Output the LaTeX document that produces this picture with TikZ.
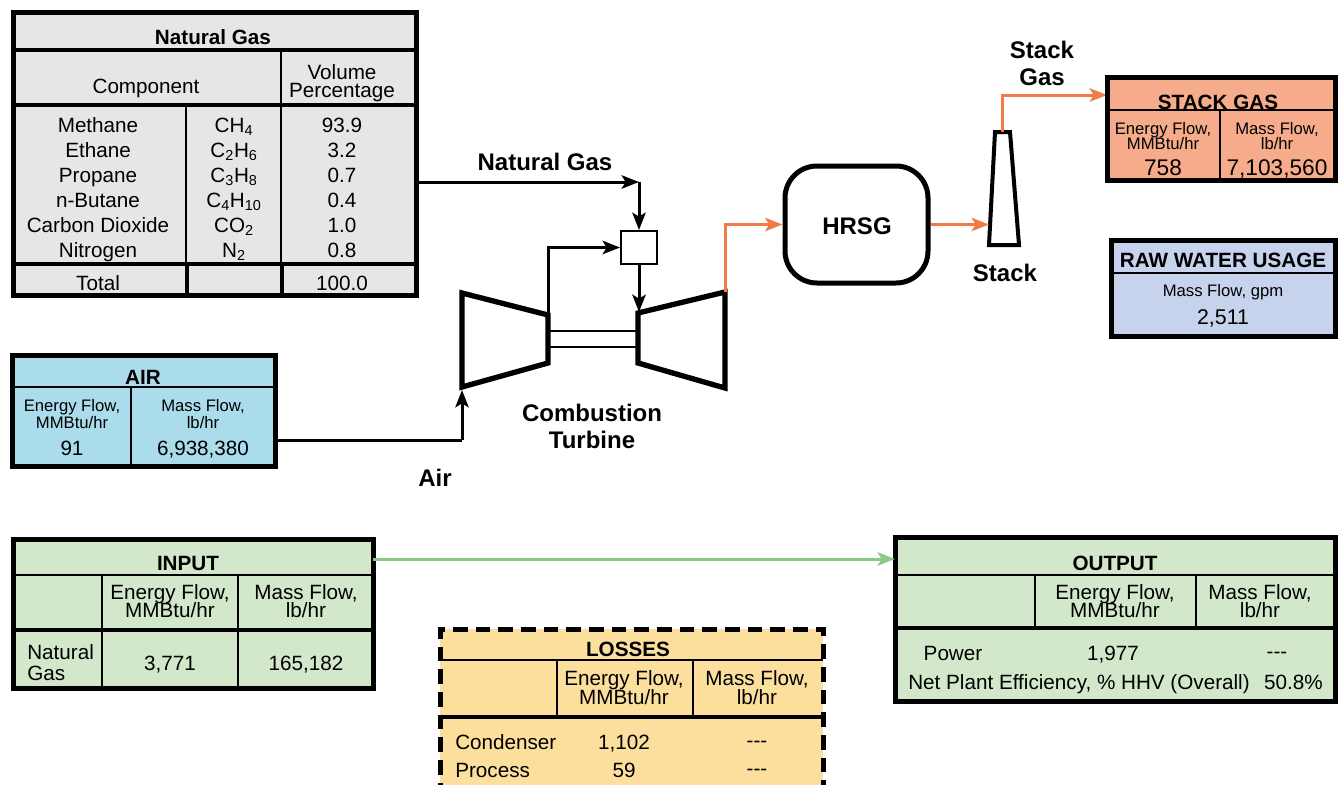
\documentclass[tikz,border=0pt]{standalone}
\usepackage{fontspec}
\setmainfont{Liberation Sans}
\usetikzlibrary{fit,arrows.meta}
\definecolor{ngfill}{HTML}{E6E6E8}
\definecolor{airfill}{HTML}{AADCEC}
\definecolor{sgfill}{HTML}{F6AC8A}
\definecolor{rwfill}{HTML}{C7D3EC}
\definecolor{grfill}{HTML}{D3E8CB}
\definecolor{lsfill}{HTML}{FCDF9D}
\definecolor{orng}{HTML}{F07C45}
\definecolor{grarrow}{HTML}{8CC888}
\begin{document}
\begin{tikzpicture}[x=0.75pt,y=-0.75pt,
 box/.style={draw, line width=3.75pt, inner sep=0pt, outer sep=0pt},
 sepa/.style={line width=1.5pt},
 sepb/.style={line width=3pt},
 tx/.style={inner sep=0pt, anchor=base, font=\fontsize{15.5}{18}\selectfont},
 txs/.style={inner sep=0pt, anchor=base, font=\fontsize{12.5}{15}\selectfont},
 txb/.style={inner sep=0pt, anchor=base, font=\fontsize{15.5}{18}\selectfont\bfseries},
 lab/.style={inner sep=0pt, anchor=base, font=\fontsize{18}{22}\selectfont\bfseries},
 conn/.style={line width=2.25pt, -{Stealth[length=13pt,width=10pt,inset=3pt]}},
 oconn/.style={conn, draw=orng},
 gconn/.style={conn, draw=grarrow},
 mach/.style={draw, line width=4pt, line join=miter},
]
\useasboundingbox (0,0) rectangle (1339,785);
\clip (0,0) rectangle (1339,785);

% ---------------- Natural gas table ----------------
\node[box, fill=ngfill, fit={(13,12) (416,295)}] (ng) {};
\draw[sepb] (13,50) -- (416,50);
\draw[sepb] (13,105) -- (416,105);
\draw[line width=3.5pt] (13,264) -- (416,264);
\draw[sepa] (281,50) -- (281,264);
\draw[sepa] (186,105) -- (186,264);
\draw[sepb] (187,264) -- (187,295);
\draw[sepb] (282,264) -- (282,295);
\node[txb] (ngT) at (213,44) {Natural Gas};
\node[tx] (ngC) at (146,93) {Component};
\node[tx] (ngV1) at (342,79) {Volume};
\node[tx] (ngV2) at (342,97) {Percentage};
\foreach \yy/\nm/\fm/\vl [count=\i] in {132/Methane/CH\textsubscript{4}/93.9,
  157/Ethane/C\textsubscript{2}H\textsubscript{6}/3.2,
  182/Propane/C\textsubscript{3}H\textsubscript{8}/0.7,
  207/n-Butane/C\textsubscript{4}H\textsubscript{10}/0.4,
  232/Carbon Dioxide/CO\textsubscript{2}/1.0,
  257/Nitrogen/N\textsubscript{2}/0.8}{
  \node[tx] (rn\i) at (98,\yy) {\nm};
  \node[tx] (rf\i) at (234,\yy) {\fm};
  \node[tx] (rv\i) at (342,\yy) {\vl};
}
\node[tx] (tot) at (98,290) {Total};
\node[tx] (totv) at (342,290) {100.0};

% ---------------- Air box ----------------
\node[box, fill=airfill, fit={(12,355) (275,466)}] (air) {};
\draw[sepa] (12,387) -- (275,387);
\draw[sepa] (131,387) -- (131,466);
\node[txb] (airT) at (143,384) {AIR};
\node[txs] (airE1) at (72,411) {Energy Flow,};
\node[txs] (airE2) at (72,428) {MMBtu/hr};
\node[txs] (airM1) at (203,411) {Mass Flow,};
\node[txs] (airM2) at (203,428) {lb/hr};
\node[tx] (airEv) at (72,455) {91};
\node[tx] (airMv) at (203,455) {6,938,380};

% ---------------- Combustion turbine ----------------
\draw[mach] (462,293) -- (548,315) -- (548,363) -- (462,387) -- cycle;
\draw[mach] (638,313) -- (725,292) -- (725,388) -- (638,363) -- cycle;
\draw[sepa] (548,331) -- (638,331);
\draw[sepa] (548,347) -- (638,347);
\node[draw, line width=1.5pt, inner sep=0pt, fit={(621,231) (657,264)}] (comb) {};
\coordinate (ngcorner) at (639,182);
\coordinate (cout) at (548,315);
\coordinate (tin) at (639,312);
\coordinate (airturn) at (462,440);
\coordinate (cin) at (462,390);
\coordinate (tout) at (725,292);

\draw[conn] (ng.east |- ngcorner) -- (ngcorner);
\draw[conn] (ngcorner) -- (comb.north);
\draw[conn] (cout) |- (comb.west);
\draw[conn] (comb.south) -- (tin);
\draw[line width=2.25pt] (air.east |- airturn) -- (airturn);
\draw[conn] (airturn) -- (cin);

\node[lab] (lNG) at (545,170) {Natural Gas};
\node[lab] (lCT1) at (592,421) {Combustion};
\node[lab] (lCT2) at (592,448) {Turbine};
\node[lab] (lAir) at (435,486) {Air};

% ---------------- HRSG and stack ----------------
\node[draw, line width=3.75pt, rounded corners=24pt, inner sep=0pt, fit={(785,166) (928,283)}] (hrsg) {};
\node[lab] (lH) at (857,234) {HRSG};
\draw[line width=3pt, line join=miter] (995,132) -- (1010,132) -- (1019,245) -- (989,245) -- cycle;
\coordinate (stackin) at (989,224.5);
\coordinate (stacktop) at (1002.5,132);
\coordinate (sgin) at (1107,95);
\draw[oconn] (tout) |- (hrsg.west);
\draw[oconn] (hrsg.east) -- (stackin);
\draw[oconn] (stacktop) |- (sgin);
\node[lab] (lS) at (1005,281) {Stack};
\node[lab] (lSG1) at (1042,58) {Stack};
\node[lab] (lSG2) at (1042,85) {Gas};

% ---------------- Stack gas box ----------------
\node[box, fill=sgfill, fit={(1107,77) (1335,180)}] (sg) {};
\draw[sepa] (1107,110) -- (1335,110);
\draw[sepa] (1220,110) -- (1220,180);
\node[txb] (sgT) at (1218,109) {STACK GAS};
\node[txs] (sgE1) at (1163,134) {Energy Flow,};
\node[txs] (sgE2) at (1163,149) {MMBtu/hr};
\node[txs] (sgM1) at (1277,134) {Mass Flow,};
\node[txs] (sgM2) at (1277,149) {lb/hr};
\node[inner sep=0pt, anchor=base, font=\fontsize{17}{20}\selectfont] (sgEv) at (1163,175) {758};
\node[inner sep=0pt, anchor=base, font=\fontsize{17}{20}\selectfont] (sgMv) at (1277,175) {7,103,560};

% ---------------- Raw water box ----------------
\node[box, fill=rwfill, fit={(1111,240) (1335,336)}] (rw) {};
\draw[sepa] (1111,273) -- (1335,273);
\node[txb] (rwT) at (1223,267) {RAW WATER USAGE};
\node[txs] (rwM) at (1223,296) {Mass Flow, gpm};
\node[inner sep=0pt, anchor=base, font=\fontsize{16}{18}\selectfont] (rwv) at (1223,324) {2,511};

% ---------------- Input box ----------------
\node[box, fill=grfill, fit={(13,539) (373,688)}] (inp) {};
\draw[sepa] (13,575) -- (373,575);
\draw[sepb] (13,630) -- (373,630);
\draw[sepa] (102,575) -- (102,688);
\draw[sepa] (238,575) -- (238,688);
\node[txb] (inT) at (188,570) {INPUT};
\node[tx] (inE1) at (170,599) {Energy Flow,};
\node[tx] (inE2) at (170,617) {MMBtu/hr};
\node[tx] (inM1) at (306,599) {Mass Flow,};
\node[tx] (inM2) at (306,617) {lb/hr};
\node[tx, anchor=base west] (inN1) at (27,659) {Natural};
\node[tx, anchor=base west] (inN2) at (27,680) {Gas};
\node[tx] (inEv) at (170,670) {3,771};
\node[tx] (inMv) at (306,670) {165,182};

% ---------------- Output box ----------------
\node[box, fill=grfill, fit={(895,537) (1335,701)}] (out) {};
\draw[sepa] (895,575) -- (1335,575);
\draw[sepb] (895,628) -- (1335,628);
\draw[sepa] (1035,575) -- (1035,628);
\draw[sepa] (1196,575) -- (1196,628);
\node[txb] (outT) at (1115,570) {OUTPUT};
\node[tx] (outE1) at (1115,599) {Energy Flow,};
\node[tx] (outE2) at (1115,617) {MMBtu/hr};
\node[tx] (outM1) at (1260,599) {Mass Flow,};
\node[tx] (outM2) at (1260,617) {lb/hr};
\node[tx] (outP) at (953,660) {Power};
\node[tx] (outPv) at (1113,660) {1,977};
\node[tx] (outPm) at (1277,658) {-{}-{}-};
\node[tx, anchor=base west] (outN) at (908,689) {Net Plant Efficiency, \% HHV (Overall)};
\node[tx, anchor=base east] (outNv) at (1323,689) {50.8\%};

% green arrow
\coordinate (gin) at (inp.east |- 0,559);
\coordinate (gout) at (out.west |- 0,559);
\draw[gconn] (gin) -- (gout);

% ---------------- Losses box ----------------
\node[box, fill=lsfill, dash pattern=on 11pt off 6pt, fit={(440,629) (823,820)}] (los) {};
\draw[sepa] (440,660) -- (823,660);
\draw[sepb] (440,717) -- (823,717);
\draw[sepa] (557,660) -- (557,717);
\draw[sepa] (693,660) -- (693,717);
\node[txb] (lsT) at (628,656) {LOSSES};
\node[tx] (lsE1) at (624,685) {Energy Flow,};
\node[tx] (lsE2) at (624,704) {MMBtu/hr};
\node[tx] (lsM1) at (757,685) {Mass Flow,};
\node[tx] (lsM2) at (757,704) {lb/hr};
\node[tx, anchor=base west] (lsC) at (455,749) {Condenser};
\node[tx] (lsCv) at (624,749) {1,102};
\node[tx] (lsCm) at (757,747) {-{}-{}-};
\node[tx, anchor=base west] (lsP) at (455,777) {Process};
\node[tx] (lsPv) at (624,777) {59};
\node[tx] (lsPm) at (757,775) {-{}-{}-};
\end{tikzpicture}
\end{document}
